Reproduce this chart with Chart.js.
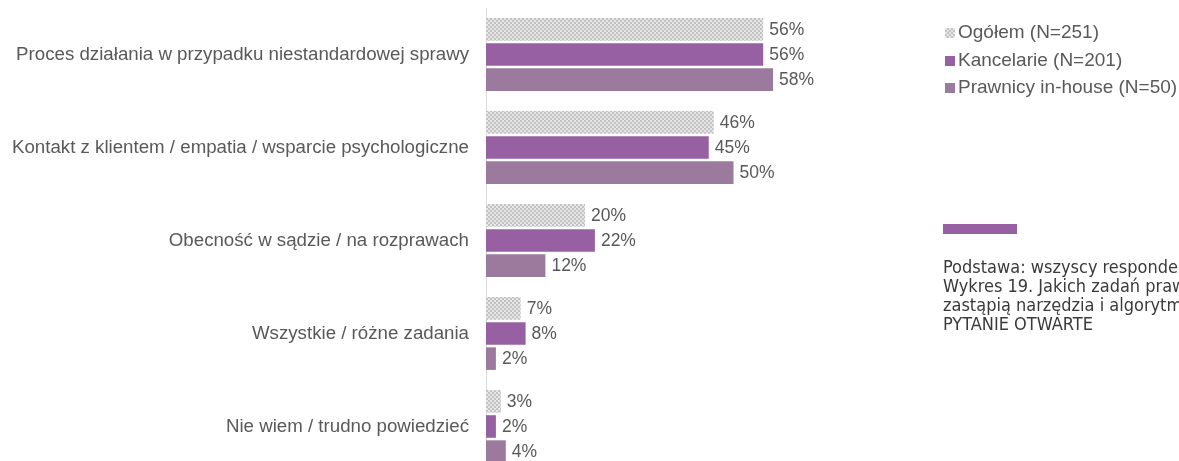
<!DOCTYPE html>
<html lang="pl">
<head>
<meta charset="utf-8">
<script src="https://cdn.jsdelivr.net/npm/chart.js@4"></script>
<style>
  html, body { margin: 0; padding: 0; background: #fff; overflow: hidden; }
  body { width: 1179px; height: 461px; position: relative; font-family: "Liberation Sans", Arial, sans-serif; }
  #wrap { position: absolute; left: 0; top: 0; width: 1179px; height: 480px; }
  .legend { position: absolute; left: 945px; top: 20px; color: #595959; font-size: 19px; }
  .legend div { height: 27.5px; line-height: 24px; white-space: nowrap; }
  .legend span { display: inline-block; width: 10px; height: 10px; margin-right: 3px; vertical-align: 0px; }
  .note-bar { position: absolute; left: 943px; top: 224px; width: 74px; height: 10px; background: #9660a2; }
  .note { position: absolute; left: 943px; top: 257px; width: 400px; color: #3a3a3a;
          font-family: "Liberation Sans Narrow", "DejaVu Sans Condensed", sans-serif; font-size: 18px; line-height: 19px; white-space: nowrap; }
</style>
</head>
<body>
<div id="wrap"><canvas id="chart" width="1179" height="480"></canvas></div>

<div class="legend">
  <div><span style="background: repeating-conic-gradient(#c2c2c2 0 25%, #e6e6e6 0 50%) 0 0/4px 4px;"></span>Ogółem (N=251)</div>
  <div><span style="background:#9660a2"></span>Kancelarie (N=201)</div>
  <div><span style="background:#9c7a9e"></span>Prawnicy in-house (N=50)</div>
</div>

<div class="note-bar"></div>
<div class="note">
  Podstawa: wszyscy respondenci<br>
  Wykres 19. Jakich zadań prawników nie<br>
  zastąpią narzędzia i algorytmy?<br>
  PYTANIE OTWARTE
</div>

<script>
// kategorie i wyniki (%)
const categories = [
  'Proces działania w przypadku niestandardowej sprawy',
  'Kontakt z klientem / empatia / wsparcie psychologiczne',
  'Obecność w sądzie / na rozprawach',
  'Wszystkie / różne zadania',
  'Nie wiem / trudno powiedzieć'
];
const ogolem     = [56, 46, 20, 7, 3];
const kancelarie = [56, 45, 22, 8, 2];
const inhouse    = [58, 50, 12, 2, 4];

// szara kratka dla "Ogółem" (pola 2x2 px)
function checker() {
  const c = document.createElement('canvas');
  c.width = 4; c.height = 4;
  const g = c.getContext('2d');
  g.fillStyle = '#e6e6e6'; g.fillRect(0, 0, 4, 4);
  g.fillStyle = '#c2c2c2'; g.fillRect(0, 0, 2, 2); g.fillRect(2, 2, 2, 2);
  return g.createPattern(c, 'repeat');
}

// etykiety z wartościami przy końcu słupków
const valueLabels = {
  id: 'valueLabels',
  afterDatasetsDraw(chart) {
    const ctx = chart.ctx;
    ctx.save();
    ctx.font = '17.5px "Liberation Sans", Arial, sans-serif';
    ctx.fillStyle = '#595959';
    ctx.textBaseline = 'middle';
    chart.data.datasets.forEach((ds, i) => {
      chart.getDatasetMeta(i).data.forEach((bar, j) => {
        ctx.fillText(ds.data[j] + '%', bar.x + 6, bar.y + 1);
      });
    });
    ctx.restore();
  }
};

new Chart(document.getElementById('chart'), {
  type: 'bar',
  data: {
    labels: categories,
    datasets: [
      { label: 'Ogółem (N=251)', data: ogolem, backgroundColor: checker(), borderWidth: 0 },
      { label: 'Kancelarie (N=201)', data: kancelarie, backgroundColor: '#9660a2', borderWidth: 0 },
      { label: 'Prawnicy in-house (N=50)', data: inhouse, backgroundColor: '#9c7a9e', borderWidth: 0 }
    ]
  },
  options: {
    indexAxis: 'y',
    responsive: false,
    animation: false,
    devicePixelRatio: 1,
    layout: { padding: { top: 8, right: 198, bottom: 7, left: 0 } },
    categoryPercentage: 0.81,
    barPercentage: 0.9,
    plugins: { legend: { display: false }, tooltip: { enabled: false } },
    scales: {
      x: { min: 0, max: 100, display: false },
      y: {
        grid: { display: false },
        border: { display: true, color: '#d9d9d9', width: 1 },
        ticks: { color: '#595959', padding: 9, font: { size: 18.7, family: '"Liberation Sans", Arial, sans-serif' } },
        afterFit(scale) {
          scale.width = 486;
          scale.paddingTop = 0;
          scale.paddingBottom = 0;
        }
      }
    }
  },
  plugins: [valueLabels]
});
</script>
</body>
</html>
